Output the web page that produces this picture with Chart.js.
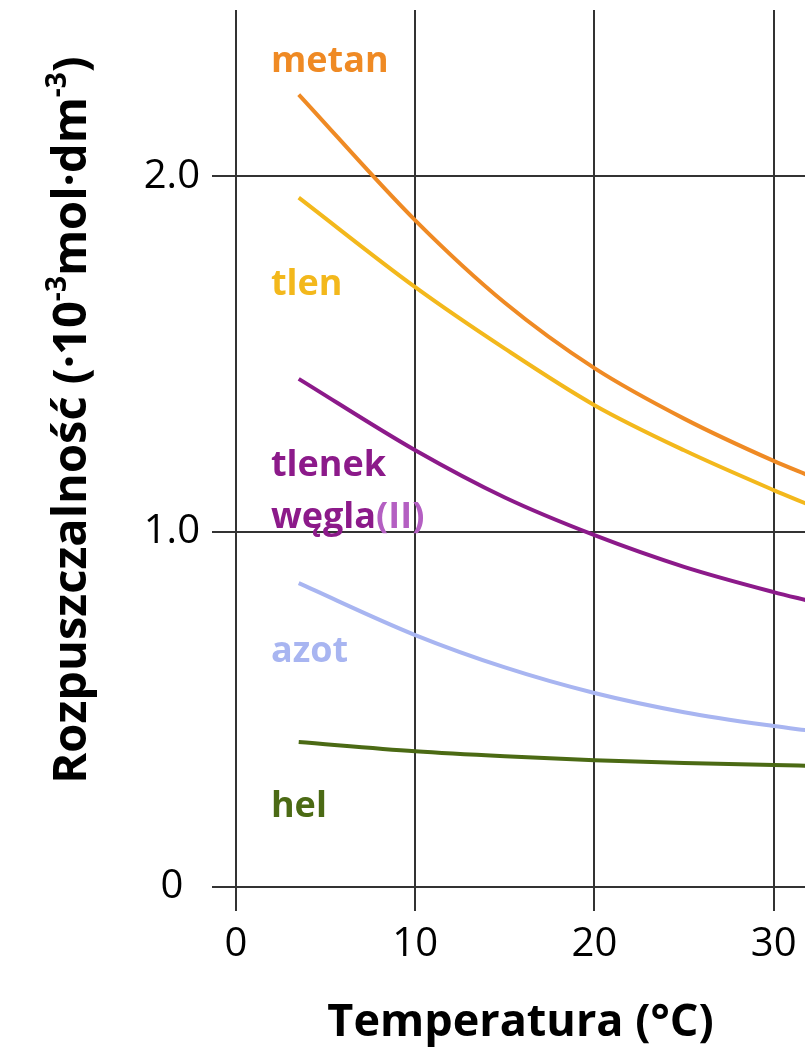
<!DOCTYPE html>
<html>
<head>
<meta charset="utf-8">
<script src="https://cdn.jsdelivr.net/npm/chart.js@4.4.1/dist/chart.umd.min.js"></script>
<style>
    html, body { margin: 0; padding: 0; background: #fff; }
    #wrap { width: 805px; height: 1050px; }
</style>
</head>
<body>
<div id="wrap"><canvas id="chart"></canvas></div>
<script>
// Temperatura (°C)
const temps = [3.5, 10, 15, 20, 25, 30, 32]

// Rozpuszczalność gazów w wodzie (·10^-3 mol·dm^-3)
const metan = [2.23, 1.876, 1.644, 1.46, 1.318, 1.199, 1.157]
const tlen = [1.94, 1.688, 1.515, 1.356, 1.229, 1.117, 1.075]
const tlenekWegla = [1.43, 1.229, 1.096, 0.99, 0.901, 0.83, 0.805]
const azot = [0.855, 0.709, 0.618, 0.546, 0.492, 0.453, 0.44]
const hel = [0.408, 0.382, 0.368, 0.357, 0.349, 0.343, 0.341]

// Tick labels
const xTickLabels = ['0', '10', '20', '30']
const yTickLabels = ['0', '1.0', '2.0']

const colors = {
    metan: '#ef8a24',
    tlen: '#f3b81c',
    tlenek: '#8c1a8a',
    tlenekRoman: '#b45fc2',
    azot: '#a8b5f1',
    hel: '#4b6a14'
}

const FONT = '"Open Sans", "Noto Sans", sans-serif'

const toPoints = values => values.map((v, i) => ({ x: temps[i], y: v }))

const series = (data, color) => ({
    data: toPoints(data),
    borderColor: color,
    borderWidth: 4,
    pointRadius: 0,
    fill: false,
    cubicInterpolationMode: 'monotone'
})

// Names of the gases next to their curves
const gasLabels = {
    id: 'gasLabels',
    afterDatasetsDraw(chart, args, opts) {
        const { ctx, scales: { x, y } } = chart
        ctx.save()
        ctx.font = 'bold 36px ' + FONT
        ctx.textBaseline = 'alphabetic'
        ctx.textAlign = 'left'
        opts.items.forEach(item => {
            let px = x.getPixelForValue(item.x)
            const py = y.getPixelForValue(item.y)
            item.parts.forEach(([text, color]) => {
                ctx.fillStyle = color
                ctx.fillText(text, px, py)
                px += ctx.measureText(text).width
            })
        })
        ctx.restore()
    }
}

// Vertical axis title with superscripts
const yTitle = {
    id: 'yTitle',
    afterDraw(chart, args, opts) {
        const { ctx } = chart
        const big = 'bold ' + opts.size + 'px ' + FONT
        const small = 'bold ' + Math.round(opts.size * 0.6) + 'px ' + FONT
        const parts = [
            ['Rozpuszczalność (·10', big, 0],
            ['-3', small, -opts.size * 0.42],
            ['mol·dm', big, 0],
            ['-3', small, -opts.size * 0.42],
            [')', big, 0]
        ]
        let total = 0
        parts.forEach(([t, f]) => { ctx.font = f; total += ctx.measureText(t).width })
        ctx.save()
        ctx.translate(opts.x, opts.centerY)
        ctx.rotate(-Math.PI / 2)
        ctx.fillStyle = '#000'
        ctx.textBaseline = 'alphabetic'
        ctx.textAlign = 'left'
        let pos = -total / 2
        parts.forEach(([t, f, dy]) => {
            ctx.font = f
            ctx.fillText(t, pos, dy)
            pos += ctx.measureText(t).width
        })
        ctx.restore()
    }
}

const gridStyle = {
    color: '#333',
    lineWidth: 2,
    tickLength: 24,
    drawTicks: true
}

new Chart(document.getElementById('chart'), {
    type: 'line',
    data: {
        datasets: [
            series(metan, colors.metan),
            series(tlen, colors.tlen),
            series(tlenekWegla, colors.tlenek),
            series(azot, colors.azot),
            series(hel, colors.hel)
        ]
    },
    options: {
        responsive: true,
        maintainAspectRatio: false,
        animation: false,
        layout: { padding: { top: 10, left: 0, right: 0, bottom: 0 } },
        plugins: {
            legend: { display: false },
            tooltip: { enabled: false },
            gasLabels: {
                items: [
                    { x: 1.95, y: 2.293, parts: [['metan', colors.metan]] },
                    { x: 1.95, y: 1.665, parts: [['tlen', colors.tlen]] },
                    { x: 1.95, y: 1.156, parts: [['tlenek', colors.tlenek]] },
                    { x: 1.95, y: 1.01, parts: [['węgla', colors.tlenek], ['(II)', colors.tlenekRoman]] },
                    { x: 1.95, y: 0.633, parts: [['azot', colors.azot]] },
                    { x: 1.95, y: 0.197, parts: [['hel', colors.hel]] }
                ]
            },
            yTitle: { x: 86, centerY: 420, size: 47 }
        },
        scales: {
            x: {
                type: 'linear',
                min: 0,
                max: 31.75,
                grid: gridStyle,
                border: { display: false },
                ticks: {
                    stepSize: 10,
                    includeBounds: false,
                    padding: 10,
                    color: '#000',
                    font: { family: FONT, size: 40 },
                    callback: v => xTickLabels[v / 10]
                },
                title: {
                    display: true,
                    text: 'Temperatura (°C)',
                    color: '#000',
                    font: { family: FONT, size: 45, weight: 'bold' },
                    padding: { top: 0, bottom: 0 }
                },
                afterFit(scale) {
                    scale.height = 163
                    scale.paddingLeft = 0
                    scale.paddingRight = 0
                }
            },
            y: {
                min: 0,
                max: 2.468,
                grid: gridStyle,
                border: { display: false },
                ticks: {
                    stepSize: 1,
                    includeBounds: false,
                    padding: 12,
                    crossAlign: 'center',
                    color: '#000',
                    font: { family: FONT, size: 40 },
                    callback: v => yTickLabels[v]
                },
                afterFit(scale) {
                    scale.width = 236
                    scale.paddingTop = 0
                    scale.paddingBottom = 0
                }
            }
        }
    },
    plugins: [gasLabels, yTitle]
})
</script>
</body>
</html>
